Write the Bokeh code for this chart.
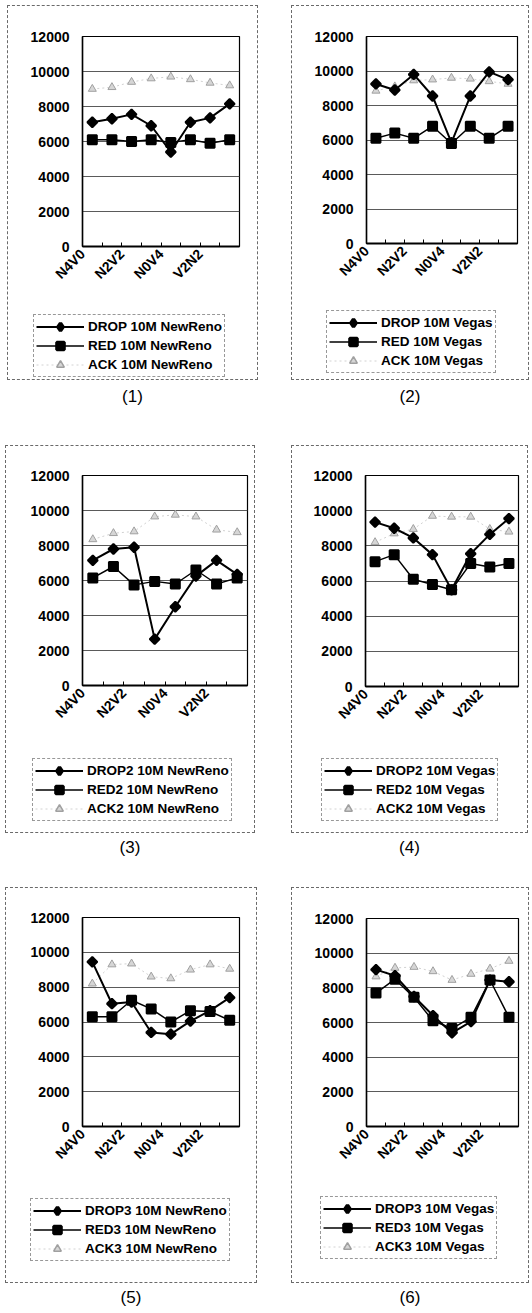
import math
from bokeh.plotting import figure
from bokeh.models import (Range1d, FixedTicker, Legend, LegendItem, Div, Spacer,
                          BasicTickFormatter, Plot)
from bokeh.layouts import row, column
from bokeh.embed import file_html
from bokeh.resources import INLINE

# ---------------- data ----------------
categories = ["N4V0", "N3V1", "N2V2", "N1V3", "N0V4", "V3N1", "V2N2", "V1N3"]
y_ticks = [0, 2000, 4000, 6000, 8000, 10000, 12000]

p1_drop = [7100, 7300, 7550, 6900, 5400, 7100, 7350, 8150]
p1_red = [6100, 6100, 6000, 6100, 5950, 6100, 5900, 6100]
p1_ack = [9000, 9100, 9400, 9600, 9700, 9550, 9350, 9200]

p2_drop = [9250, 8900, 9800, 8550, 5850, 8550, 9950, 9500]
p2_red = [6100, 6400, 6100, 6800, 5800, 6800, 6100, 6800]
p2_ack = [8850, 9100, 9450, 9500, 9600, 9550, 9400, 9250]

p3_drop = [7150, 7800, 7900, 2650, 4500, 6250, 7150, 6350]
p3_red = [6150, 6800, 5750, 5950, 5800, 6600, 5800, 6150]
p3_ack = [8350, 8700, 8800, 9650, 9750, 9650, 8900, 8750]

p4_drop = [9350, 9000, 8450, 7500, 5500, 7550, 8650, 9550]
p4_red = [7100, 7500, 6100, 5800, 5500, 7000, 6800, 7000]
p4_ack = [8200, 8700, 8950, 9700, 9650, 9650, 8950, 8800]

p5_drop = [9450, 7050, 7150, 5400, 5300, 6050, 6650, 7400]
p5_red = [6300, 6300, 7250, 6750, 6000, 6650, 6600, 6100]
p5_ack = [8200, 9300, 9350, 8600, 8500, 9000, 9300, 9050]

p6_drop = [9050, 8700, 7500, 6400, 5400, 6050, 8450, 8350]
p6_red = [7700, 8500, 7450, 6100, 5650, 6300, 8450, 6300]
p6_ack = [8650, 9150, 9200, 8950, 8450, 8800, 9100, 9550]

p1_labels = ["DROP 10M NewReno", "RED 10M NewReno", "ACK 10M NewReno"]
p2_labels = ["DROP 10M Vegas", "RED 10M Vegas", "ACK 10M Vegas"]
p3_labels = ["DROP2 10M NewReno", "RED2 10M NewReno", "ACK2 10M NewReno"]
p4_labels = ["DROP2 10M Vegas", "RED2 10M Vegas", "ACK2 10M Vegas"]
p5_labels = ["DROP3 10M NewReno", "RED3 10M NewReno", "ACK3 10M NewReno"]
p6_labels = ["DROP3 10M Vegas", "RED3 10M Vegas", "ACK3 10M Vegas"]
captions = ["(1)", "(2)", "(3)", "(4)", "(5)", "(6)"]

FONT = "Liberation Sans"
x_idx = list(range(len(categories)))
label_idx = [i for i in x_idx if i % 2 == 0]
HAS_FA = "frame_align" in Plot.properties()

# ---------------- styles ----------------
DROP_STYLE = dict(line=dict(line_color="black", line_width=2),
                  mark=dict(marker="square", angle=math.pi / 4, size=7, fill_color="black",
                            line_color="black", line_width=2))
RED_STYLE = dict(line=dict(line_color="black", line_width=1.5),
                 mark=dict(marker="square", size=9, fill_color="black", line_color="black",
                           line_width=2))
ACK_STYLE = dict(line=dict(line_color="#d2d2d2", line_width=1, line_dash="2 3"),
                 mark=dict(marker="triangle", size=8, fill_color="#d6d6d6", line_color="#a0a0a0",
                           line_width=1))
# legend samples (marker size is set by the legend itself; thicker outline enlarges them)
LEG_MARKS = (dict(marker="diamond", size=7, fill_color="black", line_color="black", line_width=3.5),
             dict(marker="square", size=9, fill_color="black", line_color="black", line_width=3),
             dict(marker="triangle", size=8, fill_color="#d6d6d6", line_color="#a0a0a0",
                  line_width=1.5))


def chart_fig(box, frame, split, drop, red, ack):
    bx0, by0, bx1, by1 = box
    fx0, fy0, fx1, fy1 = frame
    ox, oy = bx0 + 1, by0 + 1          # inner origin (1px border)
    W = (bx1 - 1) - ox
    H = split - oy
    p = figure(width=W, height=H, x_range=Range1d(-0.5, len(categories) - 0.5),
               y_range=Range1d(0, 12000), output_backend="svg", toolbar_location=None,
               title=None, min_border_left=fx0 - ox, min_border_right=(bx1 - 1) - fx1,
               min_border_top=fy0 - oy, min_border_bottom=split - fy1)
    if HAS_FA:
        p.frame_align = False
    p.background_fill_color = "white"
    p.border_fill_color = "white"
    p.outline_line_color = "black"
    p.outline_line_width = 1.2

    p.yaxis.ticker = FixedTicker(ticks=y_ticks)
    p.yaxis.formatter = BasicTickFormatter(use_scientific=False)
    p.yaxis.major_tick_in = 0
    p.yaxis.major_tick_out = 0
    p.yaxis.minor_tick_line_color = None
    p.yaxis.axis_line_color = "black"
    p.yaxis.axis_line_width = 1.5
    p.yaxis.major_label_standoff = 13
    p.yaxis.major_label_text_font = FONT
    p.yaxis.major_label_text_font_size = "14px"
    p.yaxis.major_label_text_font_style = "bold"
    p.yaxis.major_label_text_color = "black"

    # labels sit at the category boundary left of each labelled category (Excel-like offset)
    major = [i - 0.5 for i in label_idx]
    p.xaxis.ticker = FixedTicker(ticks=major, minor_ticks=[i + 0.5 for i in label_idx])
    p.xaxis.major_label_overrides = {i - 0.5: categories[i] for i in label_idx}
    p.xaxis.major_tick_in = 4
    p.xaxis.major_tick_out = 0
    p.xaxis.minor_tick_in = 4
    p.xaxis.minor_tick_out = 0
    p.xaxis.major_tick_line_color = "black"
    p.xaxis.minor_tick_line_color = "black"
    p.xaxis.axis_line_color = "black"
    p.xaxis.axis_line_width = 2
    p.xaxis.major_label_orientation = math.pi / 4
    p.xaxis.major_label_standoff = 5
    p.xaxis.major_label_text_font = FONT
    p.xaxis.major_label_text_font_size = "14px"
    p.xaxis.major_label_text_font_style = "bold"
    p.xaxis.major_label_text_color = "black"

    p.xgrid.visible = False
    p.ygrid.ticker = FixedTicker(ticks=y_ticks)
    p.ygrid.grid_line_color = "#5a5a5a"
    p.ygrid.grid_line_width = 1

    p.line(x_idx, ack, **ACK_STYLE["line"])
    p.scatter(x_idx, ack, **ACK_STYLE["mark"])
    p.line(x_idx, red, **RED_STYLE["line"])
    p.scatter(x_idx, red, **RED_STYLE["mark"])
    p.line(x_idx, drop, **DROP_STYLE["line"])
    p.scatter(x_idx, drop, **DROP_STYLE["mark"])
    return p


def legend_fig(box, split, leg, labels, series):
    bx0, by0, bx1, by1 = box
    lx0, ly0, ly1 = leg
    ox = bx0 + 1
    W = (bx1 - 1) - ox
    H = (by1 - 1) - split
    # the legend gets its own canvas; the series are referenced but lie outside its view
    q = figure(width=W, height=H, x_range=Range1d(100, 101), y_range=Range1d(100000, 100001),
               output_backend="svg", toolbar_location=None, title=None,
               x_axis_location=None, y_axis_location=None,
               min_border_left=0, min_border_right=0, min_border_top=0, min_border_bottom=0)
    if HAS_FA:
        q.frame_align = False
    q.grid.visible = False
    q.outline_line_color = None
    q.background_fill_color = "white"
    q.border_fill_color = "white"
    lines = (DROP_STYLE["line"], RED_STYLE["line"], ACK_STYLE["line"])
    rends = []
    for ls, ms, ys in zip(lines, LEG_MARKS, series):
        l = q.line(x_idx, ys, **ls)
        m = q.scatter(x_idx, ys, **ms)
        rends.append([l, m])
    items = [LegendItem(label=labels[k], renderers=rends[k]) for k in range(3)]
    legend = Legend(items=items, location=(lx0 - ox, (by1 - 1) - ly1))
    legend.border_line_color = "#333333"
    legend.border_line_width = 1
    legend.border_line_dash = "4 1"
    legend.background_fill_color = "white"
    legend.background_fill_alpha = 1
    legend.label_text_font = FONT
    legend.label_text_font_size = "13.5px"
    legend.label_text_font_style = "bold"
    legend.label_text_color = "black"
    legend.margin = 0
    legend.spacing = 0
    legend.glyph_width = 48
    legend.glyph_height = 19
    legend.label_height = 19
    legend.label_standoff = 4
    legend.padding = 2
    q.add_layout(legend)
    return q


def caption(text, W, H, lh):
    return Div(text=text, width=W, height=H, margin=0,
               styles={"text-align": "center", "font-size": "17px", "font-family": FONT,
                       "line-height": f"{lh}px", "color": "black"})


# ---------------- layout geometry (page pixels) ----------------
boxes = [(7, 5, 258, 380), (291, 5, 529, 380),
         (5, 445, 255, 833), (291, 445, 528, 833),
         (5, 887, 257, 1283), (291, 887, 529, 1283)]
frames = [(82, 36, 239, 246), (366, 36, 517, 243),
          (82, 475, 247, 685), (365, 475, 518, 686),
          (82, 917, 239, 1126), (366, 918, 518, 1126)]
legends = [(33, 316, 377), (326, 313, 373), (32, 758, 821), (321, 758, 821),
           (30, 1198, 1261), (320, 1197, 1259)]
row_tops = [5, 445, 887]
cap_h = [65, 54, 30]
cap_lh = [34, 30, 30]

drops = [p1_drop, p2_drop, p3_drop, p4_drop, p5_drop, p6_drop]
reds = [p1_red, p2_red, p3_red, p4_red, p5_red, p6_red]
acks = [p1_ack, p2_ack, p3_ack, p4_ack, p5_ack, p6_ack]
labs = [p1_labels, p2_labels, p3_labels, p4_labels, p5_labels, p6_labels]

rows = [Spacer(width=10, height=row_tops[0], margin=0)]
for r in range(3):
    cols = []
    for c in range(2):
        k = r * 2 + c
        b = boxes[k]
        split = max(frames[k][3], frames[k ^ 1][3]) + 50
        ch = chart_fig(b, frames[k], split, drops[k], reds[k], acks[k])
        lg = legend_fig(b, split, legends[k], labs[k], (drops[k], reds[k], acks[k]))
        boxed = column(row(ch), row(lg), styles={"border": "1px dashed #6a6a6a"})
        cap = caption(captions[k], b[2] - b[0], cap_h[r], cap_lh[r])
        cols.append(column(boxed, cap))
    bl, br = boxes[r * 2], boxes[r * 2 + 1]
    rows.append(row(Spacer(width=bl[0], height=10, margin=0), cols[0],
                    Spacer(width=br[0] - bl[2], height=10, margin=0), cols[1]))

layout = column(*rows)
open("out.html", "w").write(file_html(layout, INLINE))
